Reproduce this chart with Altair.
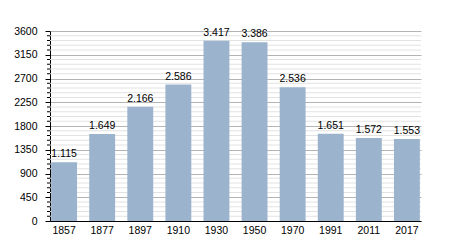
import altair as alt
import pandas as pd

years = ["1857", "1877", "1897", "1910", "1930", "1950", "1970", "1991", "2011", "2017"]
population = [1115, 1649, 2166, 2586, 3417, 3386, 2536, 1651, 1572, 1553]
major_ticks = [0, 450, 900, 1350, 1800, 2250, 2700, 3150, 3600]
minor_ticks = [v for v in range(0, 3601, 90) if v % 450 != 0]

df = pd.DataFrame({"year": years, "pop": population})
dminor = pd.DataFrame({"v": minor_ticks})

FONT = "Liberation Sans"
W, H = 371, 190
yscale = alt.Scale(domain=[0, 3600], nice=False)
yaxis = alt.Axis(values=major_ticks, format="d",
                 tickSize=5, tickColor="black", domainColor="black",
                 labelColor="black", labelFont=FONT, labelFontSize=10.5,
                 labelPadding=8, grid=True, gridColor="#b4b4b4", gridWidth=1)

xenc = alt.X("year:N", sort=years, title=None,
             scale=alt.Scale(paddingInner=0.32, paddingOuter=0.03),
             axis=alt.Axis(labelAngle=0, ticks=False, domainColor="black",
                           labelColor="black", labelFont=FONT, labelFontSize=10.5,
                           labelPadding=4, grid=False))

minor_grid = alt.Chart(dminor).mark_rule(color="#e2e2e2", strokeWidth=1).encode(
    y=alt.Y("v:Q", title=None, scale=yscale, axis=yaxis),
    x=alt.value(0), x2=alt.value(W),
)
minor_tick = alt.Chart(dminor).mark_rule(color="black", strokeWidth=1).encode(
    y=alt.Y("v:Q", title=None, scale=yscale, axis=yaxis),
    x=alt.value(-3), x2=alt.value(0),
)

bars = alt.Chart(df).mark_bar(color="#9bb3cd").encode(
    x=xenc,
    y=alt.Y("pop:Q", title=None, scale=yscale, axis=yaxis),
)

labels = alt.Chart(df).transform_calculate(
    lbl="replace(format(datum.pop, ','), ',', '.')"
).mark_text(baseline="bottom", dy=-3, font=FONT, fontSize=10.5, color="black").encode(
    x=xenc,
    y=alt.Y("pop:Q", title=None, scale=yscale, axis=yaxis),
    text="lbl:N",
)

chart = alt.layer(minor_grid, minor_tick, bars, labels).properties(
    width=W, height=H,
    background="white",
    autosize=alt.AutoSizeParams(type="none"),
    padding={"left": 50, "top": 31, "right": 29, "bottom": 29},
).configure_view(stroke="transparent", strokeWidth=0)

chart.save("out.html", embed_options={"renderer": "svg", "actions": False})
